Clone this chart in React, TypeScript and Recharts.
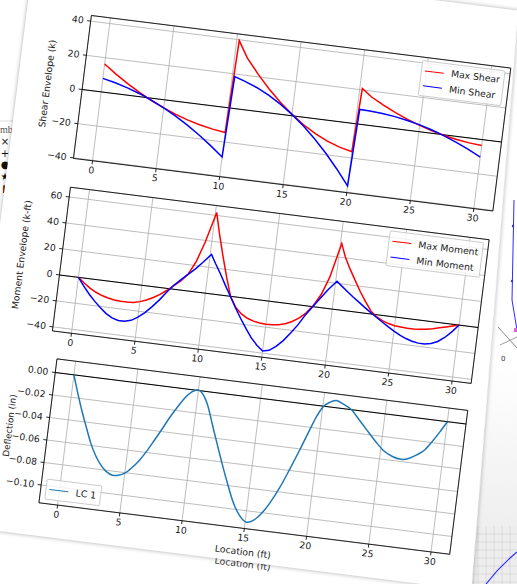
import React from 'react';
import { LineChart, Line, XAxis, YAxis, CartesianGrid, ReferenceLine, ReferenceArea } from 'recharts';

// ---------- data ----------
const xTicks = [0, 5, 10, 15, 20, 25, 30];
const shearTicks = [-40, -20, 0, 20, 40];
const momentTicks = [-40, -20, 0, 20, 40, 60];
const deflTicks = [-0.1, -0.08, -0.06, -0.04, -0.02, 0];

const shearLoc = [0, 1, 2, 3, 4, 5, 6, 7, 8, 9, 10, 10.2, 11, 12, 13, 14, 15, 16, 17, 18, 19, 20, 20.2, 21, 22, 23, 24, 25, 26, 27, 28, 29, 30];
const maxShear = [16.3, 11.18, 6.52, 2.31, -1.45, -4.74, -7.59, -9.98, -11.9, -13.38, -14.4, 39.5, 30.04, 21.44, 13.71, 6.84, 0.83, -4.32, -8.61, -12.04, -14.6, -16.3, 20.8, 16.58, 12.76, 9.34, 6.32, 3.7, 1.48, -0.34, -1.76, -2.78, -3.4];
const minShear = [7.9, 6.31, 4.25, 1.73, -1.25, -4.69, -8.58, -12.95, -17.77, -23.06, -28.8, 18.5, 16.53, 13.78, 10.25, 5.93, 0.84, -5.05, -11.71, -19.14, -27.37, -36.4, 8.6, 8.45, 7.91, 6.99, 5.69, 4.0, 1.93, -0.53, -3.37, -6.59, -10.2];

const momentLoc = [0, 0.5, 1, 1.5, 2, 2.5, 3, 3.5, 4, 4.5, 5, 5.5, 6, 6.5, 7, 7.5, 8, 8.5, 9, 9.5, 10.1,
  10.5, 11, 11.5, 12, 12.5, 13, 13.5, 14, 14.5, 15, 15.5, 16, 16.5, 17, 17.5, 18, 18.5, 19, 19.5, 20.1,
  20.5, 21, 21.5, 22, 22.5, 23, 23.5, 24, 24.5, 25, 25.5, 26, 26.5, 27, 27.5, 28, 28.5, 29, 29.5, 30];
const maxMoment = [0, -3.8, -7.1, -9.7, -11.6, -12.9, -13.8, -14.2, -14.2, -13.8, -12.6, -10.7, -8.2, -5.2, -1.4, 2.9, 7.2, 13.2, 23.5, 39, 62.2,
  47, 30, 14, -0.3, -8, -12.3, -15, -16.6, -17.4, -17.7, -17.6, -17, -15.6, -13.2, -10, -5.5, 1, 10, 24, 50.7,
  41, 32, 24, 16, 9, 2.5, -1.5, -4, -5.6, -6.6, -7.1, -7.3, -7.3, -7.0, -6.3, -5.3, -4.0, -2.7, -1.3, 0];
const minMoment = [0, -6.2, -11.8, -16.7, -21.0, -24.9, -27.6, -28.9, -29.0, -27.6, -24.6, -20.4, -15.2, -9.4, -2.8, 3.2, 8.2, 12.8, 17.5, 23, 30,
  23.5, 15.8, 7.5, -0.5, -8.5, -16, -23, -29.5, -34.5, -38.3, -37.2, -33.5, -28.5, -22, -15, -6.5, 0.5, 7.5, 14.5, 21.6,
  18.5, 14.8, 11.2, 7.8, 4.4, 1.2, -2, -5, -8, -10.8, -13.3, -15.3, -16.8, -17.6, -17.6, -16.6, -14.5, -10.8, -5.9, 0];

const deflLoc = [0, 0.5, 1, 1.5, 2, 2.5, 3, 3.5, 4.1, 4.5, 5, 5.5, 6, 6.5, 7, 7.5, 8, 8.5, 9, 9.5, 10, 10.4, 10.8, 11.5, 12.3, 13.1, 14, 14.5, 15.1, 15.8, 16.75, 17.4, 18, 18.6, 19.2, 19.6, 20, 20.5, 21, 21.6, 22.3, 23, 23.7, 24.5, 25.2, 26, 26.7, 27.3, 27.9, 28.5, 29, 29.5, 30];
const deflLC1 = [0, -0.016, -0.031, -0.0445, -0.0577, -0.068, -0.0757, -0.081, -0.0837, -0.083, -0.0805, -0.075, -0.068, -0.059, -0.0487, -0.038, -0.0268, -0.017, -0.0081, -0.002, 0.0003, -0.003, -0.010, -0.030, -0.053, -0.075, -0.097, -0.105, -0.110, -0.106, -0.091, -0.076, -0.059, -0.041, -0.022, -0.010, -0.001, 0.004, 0.0063, 0.004, 0.0, -0.008, -0.016, -0.025, -0.032, -0.0365, -0.038, -0.0365, -0.0325, -0.027, -0.019, -0.010, 0];

// ---------- styling ----------
const FONT = '"DejaVu Sans", Verdana, sans-serif';
const FS = 9.3;
const ROT = 7.15;
const X_DOMAIN: [number, number] = [-1.5, 31.5];

const fmtInt = (v: number) => (v < 0 ? '\u2212' + Math.abs(v) : String(v));
const fmtDefl = (v: number) => {
  const a = Math.abs(v);
  const s = a < 1e-9 ? '0.00' : a.toFixed(2);
  return v < -1e-9 ? '\u2212' + s : s;
};

type Series = { key: string; name: string; color: string; values: number[] };
type Rect = { left: number; top: number; width: number; height: number };

function Panel(props: {
  plot: Rect; loc: number[]; series: Series[]; yDomain: [number, number]; yTicks: number[];
  yFmt: (v: number) => string; curve: 'linear' | 'monotone';
}) {
  const { plot, loc, series, yDomain, yTicks, yFmt, curve } = props;
  const yW = 40, xH = 24, mT = 2, mR = 2;
  const data = loc.map((x, i) => {
    const r: any = { x };
    series.forEach((s) => { r[s.key] = s.values[i]; });
    return r;
  });
  const tickStyle = { fill: '#1a1a1a', fontSize: FS, fontFamily: FONT };
  return (
    <div style={{ position: 'absolute', left: 0, top: plot.top - mT }}>
      <LineChart width={plot.left + plot.width + mR} height={mT + plot.height + xH} data={data}
        margin={{ top: mT, right: mR, left: plot.left - yW, bottom: 0 }}>
        <CartesianGrid stroke="#b0b0b0" strokeWidth={0.8} />
        <XAxis dataKey="x" type="number" domain={X_DOMAIN} ticks={xTicks} allowDataOverflow height={xH}
          axisLine={false} tickLine={{ stroke: '#000', strokeWidth: 0.8 }} tickSize={3.5} tickMargin={2.5}
          tick={tickStyle} interval={0} />
        <YAxis type="number" domain={yDomain} ticks={yTicks} allowDataOverflow width={yW}
          axisLine={false} tickLine={{ stroke: '#000', strokeWidth: 0.8 }} tickSize={3.5} tickMargin={3.5}
          tick={tickStyle} interval={0} tickFormatter={yFmt} />
        <ReferenceLine y={0} stroke="#000" strokeWidth={1} ifOverflow="visible" />
        {series.map((s) => (
          <Line key={s.key} dataKey={s.key} name={s.name} stroke={s.color} strokeWidth={1.5} dot={false}
            type={curve} isAnimationActive={false} />
        ))}
        <ReferenceArea x1={X_DOMAIN[0]} x2={X_DOMAIN[1]} y1={yDomain[0]} y2={yDomain[1]} fill="none"
          fillOpacity={0} stroke="#000" strokeWidth={0.8} ifOverflow="visible" />
      </LineChart>
    </div>
  );
}

function LegendBox(props: { items: Series[]; left: number; top: number; anchorRight?: boolean }) {
  const { items, left, top, anchorRight } = props;
  return (
    <div style={{
      position: 'absolute', left, top, transform: anchorRight ? 'translateX(-100%)' : undefined,
      background: 'rgba(255,255,255,0.8)', border: '0.8px solid #cccccc', borderRadius: 2,
      padding: '3.7px 3.7px', fontFamily: FONT, fontSize: FS, color: '#1a1a1a', whiteSpace: 'nowrap',
    }}>
      {items.map((s, i) => (
        <div key={s.key} style={{ display: 'flex', alignItems: 'center', height: 11.2, marginTop: i === 0 ? 0 : 4.65 }}>
          <div style={{ width: 18.6, height: 0, borderTop: `1.5px solid ${s.color}`, marginRight: 7.4 }} />
          <span style={{ lineHeight: '11.2px' }}>{s.name}</span>
        </div>
      ))}
    </div>
  );
}

function Label(props: { text: string; cx: number; cy: number; vertical?: boolean; color?: string; size?: number }) {
  const { text, cx, cy, vertical, color, size } = props;
  return (
    <div style={{
      position: 'absolute', left: cx, top: cy, whiteSpace: 'nowrap', fontFamily: FONT, fontSize: size || FS,
      color: color || '#1a1a1a', lineHeight: '11px',
      transform: `translate(-50%,-50%)${vertical ? ' rotate(-90deg)' : ''}`,
    }}>{text}</div>
  );
}

const shearSeries: Series[] = [
  { key: 'max', name: 'Max Shear', color: '#ff0000', values: maxShear },
  { key: 'min', name: 'Min Shear', color: '#0000ff', values: minShear },
];
const momentSeries: Series[] = [
  { key: 'max', name: 'Max Moment', color: '#ff0000', values: maxMoment },
  { key: 'min', name: 'Min Moment', color: '#0000ff', values: minMoment },
];
const deflSeries: Series[] = [
  { key: 'lc1', name: 'LC 1', color: '#1f77b4', values: deflLC1 },
];

const topPlot: Rect = { left: 92.6, top: 3.8, width: 422.7, height: 144 };
const midPlot: Rect = { left: 93.2, top: 177, width: 422, height: 144.8 };
const botPlot: Rect = { left: 101.2, top: 349.1, width: 414, height: 145 };

const markers = ['\u00d7', '+', '\u25cf', '\u2605', '\u25ae', '\u257b'];

// background windows seen around the figure (decoration)
function Backdrop() {
  const gridV = [478, 486, 494, 502, 510];
  const gridH = [534, 542, 550, 558, 566, 574, 582];
  return (
    <svg width={517} height={584} style={{ position: 'absolute', left: 0, top: 0 }}>
      <defs>
        <linearGradient id="shade" x1="0" y1="0" x2="0" y2="1">
          <stop offset="0" stopColor="#ffffff" />
          <stop offset="1" stopColor="#e9e9e9" />
        </linearGradient>
      </defs>
      <rect x={440} y={360} width={77} height={224} fill="url(#shade)" />
      <line x1={514} y1={200} x2={512} y2={300} stroke="#2b2bff" strokeWidth={1} />
      <line x1={512} y1={300} x2={517} y2={330} stroke="#2b2bff" strokeWidth={1} />
      <circle cx={513} cy={226} r={1.2} fill="#2b2bff" />
      <circle cx={512} cy={281} r={1.2} fill="#2b2bff" />
      <line x1={498} y1={327} x2={517} y2={348} stroke="#555" strokeWidth={0.7} />
      <line x1={500} y1={345} x2={517} y2={337} stroke="#777" strokeWidth={0.7} />
      <rect x={514} y={328} width={3} height={4} fill="#e060e0" />
      <text x={501} y={361} fontSize={7} fontFamily={FONT} fill="#333">0</text>
      <rect x={470} y={526} width={47} height={58} fill="#ededed" />
      {gridV.map((x) => <line key={'v' + x} x1={x} y1={526} x2={x} y2={584} stroke="#d6d6d6" strokeWidth={0.7} />)}
      {gridH.map((y) => <line key={'h' + y} x1={470} y1={y} x2={517} y2={y} stroke="#d6d6d6" strokeWidth={0.7} />)}
      <path d="M486 584 Q500 566 517 552" fill="none" stroke="#2b2bff" strokeWidth={1.2} />
      <line x1={0} y1={121} x2={20} y2={121} stroke="#dddddd" strokeWidth={1} />
    </svg>
  );
}

export default function App() {
  return (
    <div style={{ position: 'absolute', left: 0, top: 0, width: 517, height: 584, overflow: 'hidden', background: '#fff' }}>
      <Backdrop />
      <div style={{ position: 'absolute', left: 0, top: 124, fontFamily: '"Liberation Serif", serif', fontSize: 10, color: '#555' }}>mbl</div>
      {markers.map((m, i) => (
        <div key={i} style={{ position: 'absolute', left: 0, top: 136 + i * 11.7, width: 10, textAlign: 'center', fontFamily: FONT, fontSize: 10, color: '#111', lineHeight: '12px' }}>{m}</div>
      ))}
      <div style={{ position: 'absolute', left: 0, top: 0, width: 600, height: 620, transform: `rotate(${ROT}deg)`, transformOrigin: '0 0' }}>
        <Label text="Location (ft)" cx={311} cy={528.5} color="#333" />
        <div style={{ position: 'absolute', left: 28, top: -54, width: 520, height: 581, filter: 'drop-shadow(0 0 2px rgba(0,0,0,0.35))' }}>
          <div style={{ width: '100%', height: '100%', background: '#fff', clipPath: 'polygon(0px 0px, 487.6px 0px, 513.3px 581px, 0px 581px)' }} />
        </div>
        <Panel plot={topPlot} loc={shearLoc} series={shearSeries} yDomain={[-40.3, 43.3]} yTicks={shearTicks} yFmt={fmtInt} curve="linear" />
        <Panel plot={midPlot} loc={momentLoc} series={momentSeries} yDomain={[-43.1, 67.5]} yTicks={momentTicks} yFmt={fmtInt} curve="linear" />
        <Panel plot={botPlot} loc={deflLoc} series={deflSeries} yDomain={[-0.1158, 0.0121]} yTicks={deflTicks} yFmt={fmtDefl} curve="monotone" />
        <LegendBox items={shearSeries} left={topPlot.left + topPlot.width - 4.6} top={topPlot.top + 3} anchorRight />
        <LegendBox items={momentSeries} left={midPlot.left + midPlot.width - 4.6} top={midPlot.top + 3} anchorRight />
        <LegendBox items={deflSeries} left={botPlot.left + 4.6} top={botPlot.top + botPlot.height - 4.6 - 20.2} />
        <Label text="Shear Envelope (k)" cx={56.7} cy={76.5} vertical />
        <Label text="Moment Envelope (k-ft)" cx={53.2} cy={250.3} vertical />
        <Label text="Deflection (in)" cx={63} cy={420.5} vertical size={8.8} />
        <Label text="Location (ft)" cx={309.7} cy={516.5} />
      </div>
    </div>
  );
}
